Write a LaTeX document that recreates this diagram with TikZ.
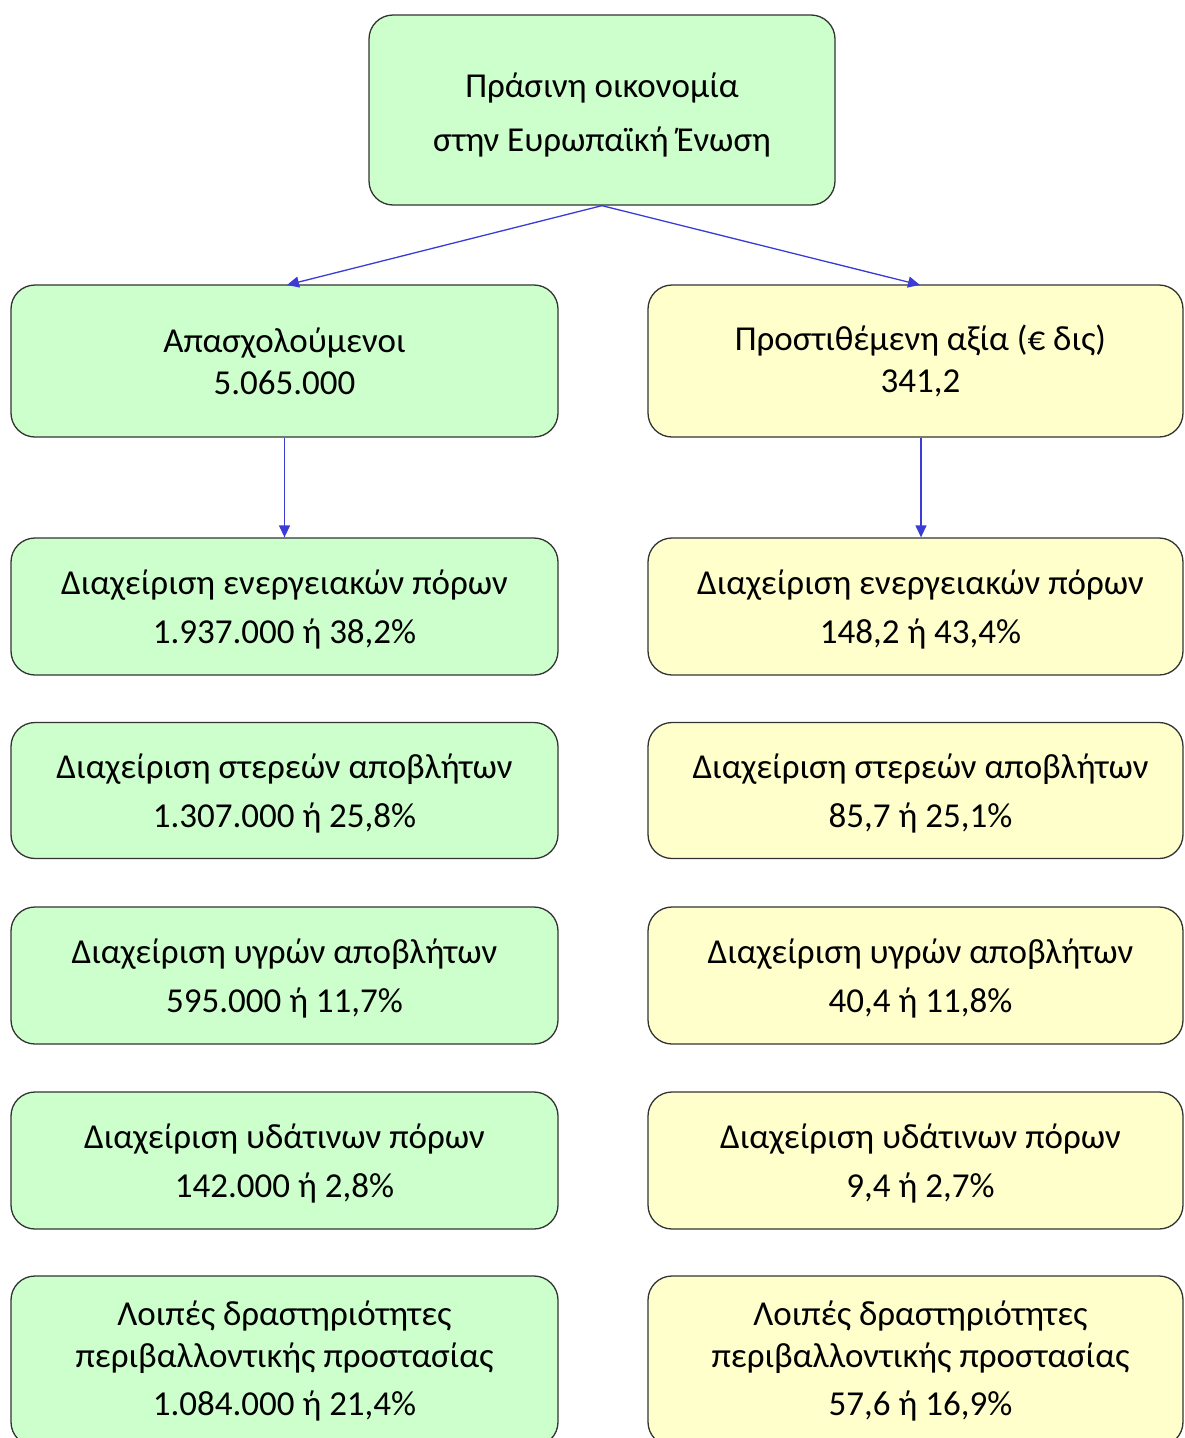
\documentclass[tikz,border=0pt]{standalone}
\usepackage{fontspec}
\setmainfont{Carlito}
\usetikzlibrary{arrows.meta}
\definecolor{gfill}{HTML}{CCFFCC}
\definecolor{yfill}{HTML}{FFFFCC}
\definecolor{arrblue}{HTML}{3B3BD6}
\definecolor{edge}{HTML}{333333}
\newcommand{\rsh}{\hspace*{10pt}}
\newcommand{\dn}{\rule{0pt}{31pt}}
\tikzset{
  box/.style={draw=edge, line width=1.3pt, rounded corners=24pt, align=center,
    font=\fontsize{35}{42}\selectfont, inner sep=0pt, text=black},
  gbox/.style={box, fill=gfill, minimum width=547pt},
  ybox/.style={box, fill=yfill, minimum width=535pt},
  conn/.style={draw=arrblue, line width=1.3pt, -{Triangle[length=12pt,width=11pt]}}
}
\begin{document}
\begin{tikzpicture}[x=1pt,y=-1pt]
\useasboundingbox (0,0) rectangle (1184,1438);
\begin{scope}
\clip (0,0) rectangle (1184,1438);
\node[box, fill=gfill, minimum width=466pt, minimum height=190pt] (top) at (602,110)
  {\rule{0pt}{34pt}Πράσινη οικονομία\\[12pt]στην Ευρωπαϊκή Ένωση};
\node[gbox, minimum height=152pt] (l1) at (284.5,361) {Απασχολούμενοι\\5.065.000};
\node[ybox, minimum height=152pt] (r1) at (915.5,361) {\rsh Προστιθέμενη αξία (€ δις)\\\rsh 341,2};
\node[gbox, minimum height=137pt] (l2) at (284.5,606.5) {\dn Διαχείριση ενεργειακών πόρων\\[7pt]1.937.000 ή 38,2\%};
\node[ybox, minimum height=137pt] (r2) at (915.5,606.5) {\dn\rsh Διαχείριση ενεργειακών πόρων\\[7pt]\rsh 148,2 ή 43,4\%};
\node[gbox, minimum height=136pt] (l3) at (284.5,790.5) {\dn Διαχείριση στερεών αποβλήτων\\[7pt]1.307.000 ή 25,8\%};
\node[ybox, minimum height=136pt] (r3) at (915.5,790.5) {\dn\rsh Διαχείριση στερεών αποβλήτων\\[7pt]\rsh 85,7 ή 25,1\%};
\node[gbox, minimum height=137pt] (l4) at (284.5,975.5) {\dn Διαχείριση υγρών αποβλήτων\\[7pt]595.000 ή 11,7\%};
\node[ybox, minimum height=137pt] (r4) at (915.5,975.5) {\dn\rsh Διαχείριση υγρών αποβλήτων\\[7pt]\rsh 40,4 ή 11,8\%};
\node[gbox, minimum height=137pt] (l5) at (284.5,1160.5) {\dn Διαχείριση υδάτινων πόρων\\[7pt]142.000 ή 2,8\%};
\node[ybox, minimum height=137pt] (r5) at (915.5,1160.5) {\dn\rsh Διαχείριση υδάτινων πόρων\\[7pt]\rsh 9,4 ή 2,7\%};
\node[gbox, minimum height=170pt] (l6) at (284.5,1361) {Λοιπές δραστηριότητες\\περιβαλλοντικής προστασίας\\[6pt]1.084.000 ή 21,4\%};
\node[ybox, minimum height=170pt] (r6) at (915.5,1361) {\rsh Λοιπές δραστηριότητες\\\rsh περιβαλλοντικής προστασίας\\[6pt]\rsh 57,6 ή 16,9\%};
\end{scope}
\coordinate (l1t) at (287,285);
\coordinate (r1t) at (920,285);
\draw[conn] (top.south) -- (l1t);
\draw[conn] (top.south) -- (r1t);
\draw[conn] (l1.south) -- (l2.north);
\draw[conn] ([xshift=5.5pt]r1.south) -- ([xshift=5.5pt]r2.north);
\end{tikzpicture}
\end{document}
